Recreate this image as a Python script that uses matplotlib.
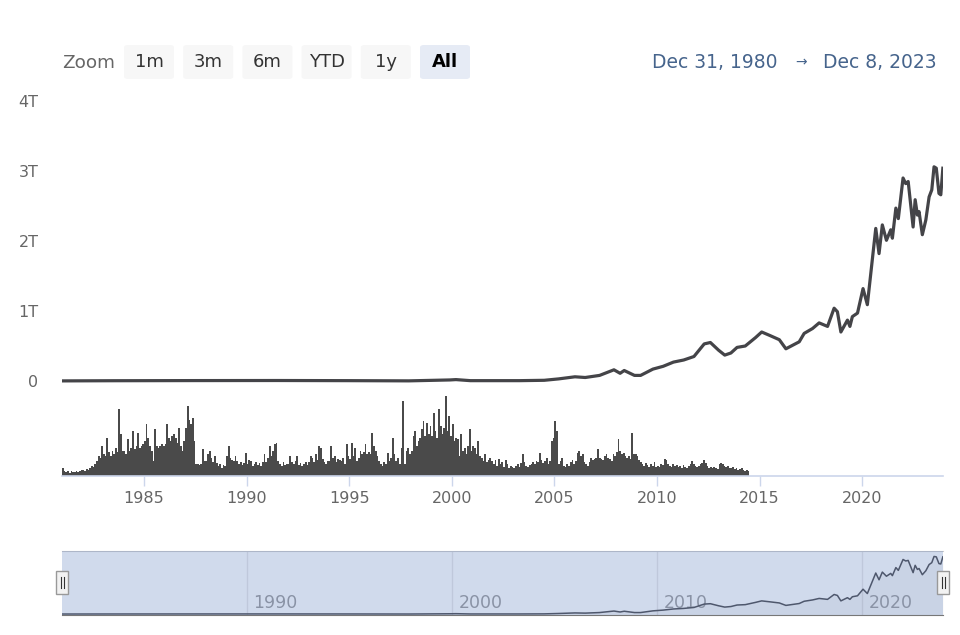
import matplotlib
matplotlib.use('Agg')
import numpy as np
import matplotlib.pyplot as plt
from matplotlib.patches import Rectangle, FancyBboxPatch

# market cap line (decimal year, trillions)
cap_dates = [1981.0, 1983.5, 1987.5, 1991.5, 1995.0, 1997.9, 1999.9, 2000.2, 2000.9,
             2003.3, 2004.5, 2005.2, 2006.0, 2006.5, 2007.2, 2007.9, 2008.2, 2008.4,
             2008.9, 2009.2, 2009.8, 2010.3, 2010.8, 2011.3, 2011.8, 2012.3, 2012.6,
             2013.0, 2013.3, 2013.6, 2013.9, 2014.3, 2014.8, 2015.1, 2015.5, 2015.96,
             2016.28, 2016.93, 2017.17, 2017.58, 2017.9, 2018.31, 2018.63, 2018.79,
             2018.96, 2019.28, 2019.4, 2019.52, 2019.77, 2020.04, 2020.25, 2020.66,
             2020.82, 2020.98, 2021.18, 2021.39, 2021.47, 2021.64, 2021.76, 2021.99,
             2022.12, 2022.24, 2022.48, 2022.58, 2022.69, 2022.77, 2022.93, 2023.1,
             2023.26, 2023.39, 2023.5, 2023.61, 2023.74, 2023.83, 2023.93]
cap_values = [0.0015, 0.004, 0.006, 0.007, 0.005, 0.002, 0.015, 0.02, 0.005,
              0.005, 0.01, 0.03, 0.06, 0.05, 0.08, 0.16, 0.11, 0.15,
              0.08, 0.08, 0.17, 0.21, 0.27, 0.30, 0.35, 0.53, 0.55,
              0.44, 0.37, 0.40, 0.48, 0.50, 0.62, 0.70, 0.65, 0.59,
              0.46, 0.56, 0.68, 0.75, 0.83, 0.78, 1.04, 0.99,
              0.70, 0.87, 0.78, 0.92, 0.97, 1.32, 1.09, 2.18,
              1.82, 2.23, 2.01, 2.16, 2.04, 2.47, 2.32, 2.90,
              2.82, 2.85, 2.20, 2.59, 2.37, 2.42, 2.09, 2.30,
              2.63, 2.73, 3.06, 3.04, 2.68, 2.66, 3.04]

# monthly volume from Jan 1981 (relative units)
vol_1980s = [8, 5, 4, 5, 3, 5, 4, 4, 5, 4, 5, 6,
             6, 5, 7, 6, 8, 10, 9, 12, 15, 20, 18, 30,
             22, 20, 38, 24, 20, 25, 22, 28, 24, 67, 42, 25,
             25, 22, 37, 25, 28, 45, 27, 30, 43, 28, 30, 32,
             35, 52, 38, 30, 25, 15, 47, 30, 28, 30, 32, 30,
             32, 52, 38, 35, 40, 42, 38, 33, 48, 30, 25, 35,
             48, 70, 56, 52, 58, 35, 12, 12, 11, 12, 27, 15,
             15, 22, 25, 18, 14, 20, 13, 10, 12, 8, 11, 10,
             20, 30, 18, 16, 15, 20, 15, 12, 14, 11, 13, 23]
vol_1990s = [12, 16, 15, 10, 12, 14, 11, 13, 10, 14, 22, 14,
             18, 30, 20, 25, 32, 33, 15, 12, 10, 14, 11, 12,
             12, 20, 14, 12, 15, 20, 11, 13, 10, 12, 14, 11,
             14, 20, 18, 14, 22, 16, 30, 28, 17, 14, 12, 15,
             15, 30, 18, 20, 14, 17, 16, 15, 18, 12, 32, 20,
             17, 33, 20, 28, 15, 18, 25, 22, 24, 32, 22, 24,
             22, 43, 30, 25, 20, 15, 12, 10, 14, 12, 23, 15,
             18, 38, 22, 15, 18, 12, 28, 75, 12, 25, 28, 22,
             25, 40, 45, 30, 35, 38, 47, 55, 40, 53, 42, 50,
             40, 63, 45, 38, 67, 50, 42, 48, 80, 45, 60, 40]
vol_2000s = [52, 35, 38, 37, 20, 42, 25, 28, 22, 30, 47, 25,
             30, 28, 22, 35, 20, 18, 15, 22, 14, 16, 18, 15,
             12, 16, 10, 17, 12, 14, 9, 16, 12, 8, 10, 9,
             8, 10, 12, 9, 13, 22, 14, 10, 9, 11, 12, 14,
             12, 15, 14, 23, 16, 13, 15, 18, 12, 15, 35, 38,
             55, 45, 12, 15, 18, 10, 9, 12, 10, 14, 16, 12,
             15, 23, 25, 20, 22, 14, 12, 10, 14, 18, 16, 17,
             18, 27, 18, 17, 16, 20, 22, 18, 17, 15, 22, 20,
             24, 37, 25, 22, 23, 20, 18, 20, 17, 43, 22, 22,
             20, 16, 14, 12, 10, 13, 11, 9, 12, 10, 14, 9]
vol_2010s = [10, 9, 12, 11, 17, 16, 12, 10, 9, 12, 10, 11,
             9, 10, 8, 11, 9, 8, 10, 12, 15, 12, 10, 9,
             10, 12, 13, 16, 13, 10, 8, 9, 8, 9, 8, 7,
             12, 13, 12, 10, 9, 10, 8, 8, 9, 7, 8, 6,
             7, 8, 6, 5, 6, 5]

year_ticks = [1985, 1990, 1995, 2000, 2005, 2010, 2015, 2020]
nav_ticks = [1990, 2000, 2010, 2020]
cap_ticks = [0, 1, 2, 3, 4]
cap_labels = ['0', '1T', '2T', '3T', '4T']
zoom_buttons = ['1m', '3m', '6m', 'YTD', '1y', 'All']
range_from = 'Dec 31, 1980'
range_to = 'Dec 8, 2023'
x_start, x_end = 1981.0, 2023.937

W, H = 960, 635
LINE = '#444448'
LABEL = '#666666'
RANGE = '#46648c'
fig = plt.figure(figsize=(W / 100, H / 100), dpi=100)


def box(x0, y0, x1, y1):
    # pixel box (top-left origin) -> figure fraction rect
    return [x0 / W, 1 - y1 / H, (x1 - x0) / W, (y1 - y0) / H]


# price panel
ax = fig.add_axes(box(62, 101, 943, 388))
ax.plot(cap_dates, cap_values, color=LINE, lw=2.3, solid_joinstyle='round')
ax.set_xlim(x_start, x_end)
ax.set_ylim(-0.1, 4.0)
ax.set_yticks(cap_ticks)
ax.set_yticklabels(cap_labels)
ax.set_xticks([])
ax.tick_params(axis='y', length=0, pad=17, labelsize=11.5, labelcolor=LABEL)
for s in ax.spines.values():
    s.set_visible(False)

# volume panel
vol = np.array(vol_1980s + vol_1990s + vol_2000s + vol_2010s, dtype=float)
months = 1981 + (np.arange(len(vol)) + 0.5) / 12
axv = fig.add_axes(box(62, 395, 943, 476))
axv.bar(months, vol, width=1 / 12, color='#4a4a4a', linewidth=0)
axv.set_xlim(x_start, x_end)
axv.set_ylim(0, 81)
axv.set_yticks([])
axv.set_xticks(year_ticks)
axv.set_xticklabels([str(y) for y in year_ticks])
axv.tick_params(axis='x', length=7, width=1, color='#ccd6eb', pad=4,
                labelsize=11.5, labelcolor=LABEL)
for k in ['top', 'left', 'right']:
    axv.spines[k].set_visible(False)
axv.spines['bottom'].set_color('#ccd6eb')
axv.spines['bottom'].set_linewidth(1.2)

# navigator
axn = fig.add_axes(box(62, 551, 943, 615))
axn.plot(cap_dates, cap_values, color=LINE, lw=1.1, zorder=2)
axn.fill_between(cap_dates, cap_values, -0.05, color=LINE, alpha=0.05, lw=0, zorder=1)
axn.set_xlim(x_start, x_end)
axn.set_ylim(-0.05, 3.35)
axn.set_xticks([])
axn.set_yticks([])
for t in nav_ticks:
    axn.axvline(t, color='#e6e6e6', lw=1, zorder=0)
    axn.annotate(str(t), (t, 0), xycoords=('data', 'axes fraction'),
                 xytext=(5, 2), textcoords='offset points', fontsize=12.5,
                 color='#999999', ha='left', va='bottom', zorder=1)
axn.add_patch(Rectangle((0, 0), 1, 1, transform=axn.transAxes,
                        facecolor=(102 / 255, 133 / 255, 194 / 255), alpha=0.3,
                        lw=0, zorder=3))
for k in ['left', 'right']:
    axn.spines[k].set_visible(False)
axn.spines['top'].set_color('#cccccc')
axn.spines['bottom'].set_color('#777777')

# navigator handles
for hx in (62, 943):
    fig.patches.append(Rectangle(((hx - 6) / W, 1 - 594 / H), 12 / W, 23 / H,
                                 transform=fig.transFigure, facecolor='#f2f2f2',
                                 edgecolor='#999999', lw=1, zorder=5))
    for dx in (-1.5, 1.5):
        fig.add_artist(plt.Line2D([(hx + dx) / W] * 2, [1 - 588 / H, 1 - 577 / H],
                                  color='#333333', lw=0.8, zorder=6))

# range selector
fig.text(62 / W, 1 - 63 / H, 'Zoom', fontsize=13.2, color=LABEL, va='center', ha='left')
for i, lab in enumerate(zoom_buttons):
    x0 = 124 + i * 59.2
    sel = lab == 'All'
    fig.patches.append(FancyBboxPatch((x0 / W, 1 - 79 / H), 50 / W, 34 / H,
                                      boxstyle='round,pad=0,rounding_size=0.004',
                                      transform=fig.transFigure, lw=0,
                                      facecolor='#e6ebf5' if sel else '#f7f7f7'))
    fig.text((x0 + 25) / W, 1 - 62 / H, lab, fontsize=13, ha='center', va='center',
             color='#000000' if sel else '#333333',
             fontweight='bold' if sel else 'normal')

fig.text(777 / W, 1 - 62 / H, range_from, fontsize=13.5, color=RANGE,
         ha='right', va='center')
fig.text(801 / W, 1 - 62 / H, '\u2192', fontsize=10, color=RANGE,
         ha='center', va='center')
fig.text(937 / W, 1 - 62 / H, range_to, fontsize=13.5, color=RANGE,
         ha='right', va='center')

fig.savefig('out.png', dpi=100)
